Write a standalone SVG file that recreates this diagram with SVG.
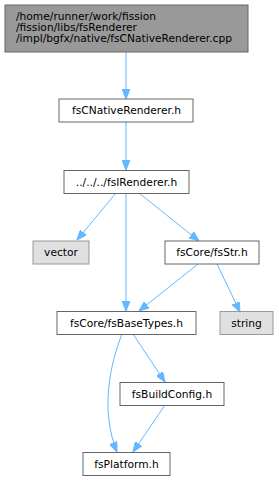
<svg xmlns="http://www.w3.org/2000/svg" width="279" height="481" viewBox="0 0 279 481">
<defs>
<style>
.n rect{fill:#ffffff;stroke:#666666;stroke-width:1}
.n.g rect{fill:#e0e0e0;stroke:#999999}
.n.top rect{fill:#999999;stroke:#666666}
text{font-family:"DejaVu Sans",sans-serif;font-size:10.67px;fill:#000000}
.e path{fill:none;stroke:#63b8ff;stroke-width:1}
</style>
<marker id="ah" markerUnits="userSpaceOnUse" markerWidth="10" markerHeight="8" refX="10" refY="4" orient="auto" viewBox="0 0 10 8">
<path d="M0,0 L10,4 L0,8 z" fill="#63b8ff" stroke="#63b8ff"/>
</marker>
</defs>
<rect width="279" height="481" fill="#ffffff"/>
<g id="edges" class="e">
<path d="M126,52 L126,99" marker-end="url(#ah)"/>
<path d="M126,122 L126,170" marker-end="url(#ah)"/>
<path d="M116,193 L77,240" marker-end="url(#ah)"/>
<path d="M126,193 L126,311" marker-end="url(#ah)"/>
<path d="M139,193 L199,241" marker-end="url(#ah)"/>
<path d="M198,264 L139,311" marker-end="url(#ah)"/>
<path d="M217,264 L240,312" marker-end="url(#ah)"/>
<path d="M133,334 L165,382" marker-end="url(#ah)"/>
<path d="M122,334 C110,365 100,410 117,452" marker-end="url(#ah)"/>
<path d="M165,405 L133,452" marker-end="url(#ah)"/>
</g>
<g id="node-cpp" class="n top">
<rect x="5" y="5" width="243" height="47"/>
<text x="16" y="19.5">/home/runner/work/fission<tspan x="16" dy="11">/fission/libs/fsRenderer</tspan><tspan x="16" dy="11">/impl/bgfx/native/fsCNativeRenderer.cpp</tspan></text>
</g>
<g id="node-cnative" class="n">
<rect x="59" y="99" width="134" height="23"/>
<text x="126.5" y="114" text-anchor="middle">fsCNativeRenderer.h</text>
</g>
<g id="node-irenderer" class="n">
<rect x="64" y="170.5" width="125" height="23"/>
<text x="126.5" y="185.5" text-anchor="middle">../../../fsIRenderer.h</text>
</g>
<g id="node-vector" class="n g">
<rect x="33" y="241" width="56" height="23"/>
<text x="61" y="256" text-anchor="middle">vector</text>
</g>
<g id="node-fsstr" class="n">
<rect x="165" y="241" width="94" height="23"/>
<text x="212" y="256" text-anchor="middle">fsCore/fsStr.h</text>
</g>
<g id="node-basetypes" class="n">
<rect x="57" y="311.5" width="139" height="23"/>
<text x="126.5" y="326.5" text-anchor="middle">fsCore/fsBaseTypes.h</text>
</g>
<g id="node-string" class="n g">
<rect x="220" y="311.5" width="53" height="23"/>
<text x="246.5" y="326.5" text-anchor="middle">string</text>
</g>
<g id="node-buildconfig" class="n">
<rect x="120" y="382.5" width="104" height="23"/>
<text x="172" y="397.5" text-anchor="middle">fsBuildConfig.h</text>
</g>
<g id="node-platform" class="n">
<rect x="83" y="452.5" width="87" height="23"/>
<text x="126.5" y="467.5" text-anchor="middle">fsPlatform.h</text>
</g>
</svg>
